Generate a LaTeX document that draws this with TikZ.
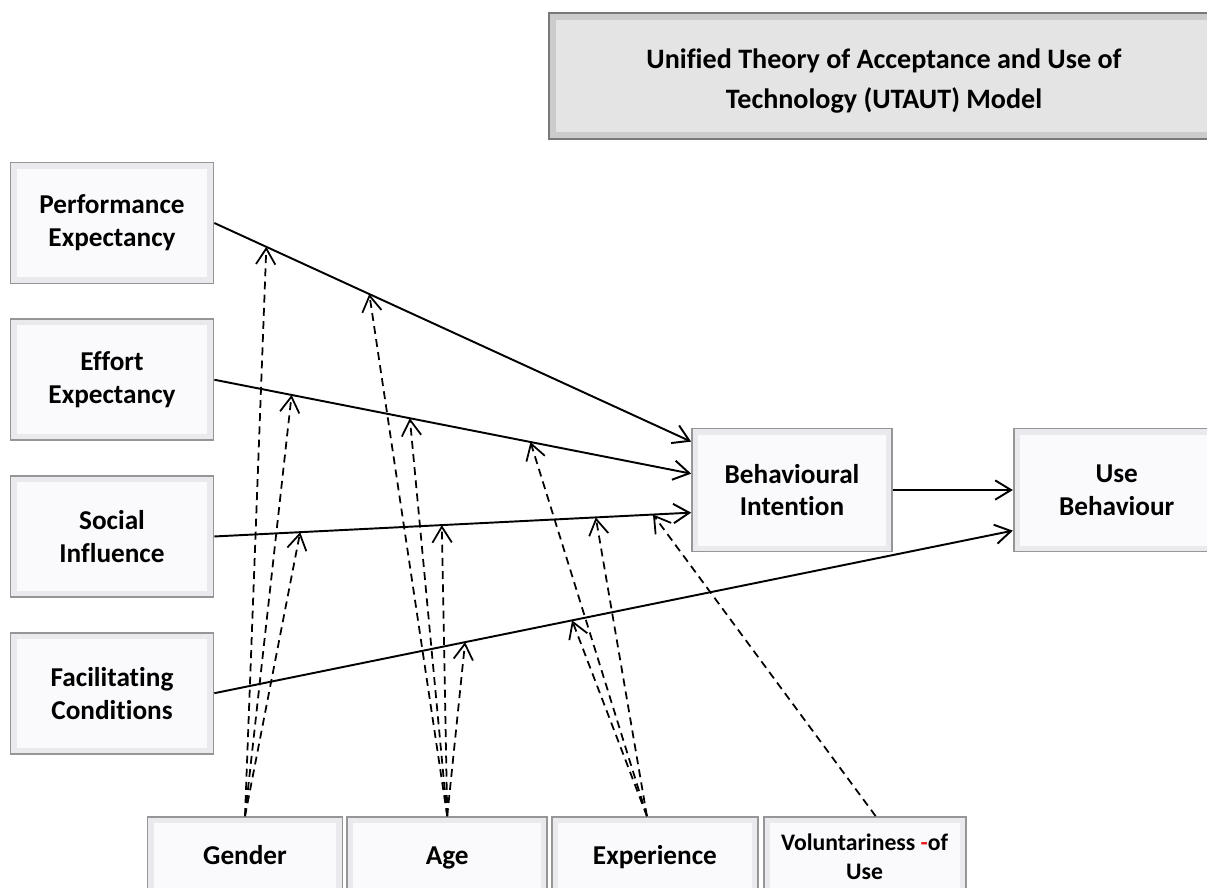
\documentclass[tikz,border=0pt]{standalone}
\usepackage{fontspec}
\setmainfont{Carlito}[Ligatures=NoCommon]
\usetikzlibrary{arrows.meta,positioning,calc}
\definecolor{boxedge}{RGB}{150,150,150}
\definecolor{boxfill}{RGB}{250,250,252}
\definecolor{bevel}{RGB}{234,234,238}
\definecolor{titlefill}{RGB}{228,228,228}
\definecolor{titlebevel}{RGB}{204,204,204}
\definecolor{titleedge}{RGB}{120,120,120}
\definecolor{spellred}{RGB}{230,30,30}

\begin{document}
\begin{tikzpicture}[x=0.02cm, y=-0.02cm,
    factor/.style = {rectangle, draw=boxedge, line width=1pt, fill=bevel,
                     minimum width=4.06cm, minimum height=2.42cm, align=center,
                     font=\fontsize{15.5}{18.7}\selectfont\bfseries,
                     path picture={\fill[boxfill]
                       ($(path picture bounding box.south west)+(6,-6)$) rectangle
                       ($(path picture bounding box.north east)+(-6,6)$);}},
    moder/.style  = {factor, minimum height=1.6cm},
    oneline/.style = {text height=1.08em, text depth=0.22em},
    ttlbox/.style = {rectangle, draw=titleedge, line width=1pt, fill=titlebevel,
                     minimum width=13.4cm, minimum height=2.52cm, align=center,
                     text height=40.5pt, text depth=3.4pt,
                     font=\fontsize{16}{22.8}\selectfont\bfseries,
                     path picture={\fill[titlefill]
                       ($(path picture bounding box.south west)+(7,-7)$) rectangle
                       ($(path picture bounding box.north east)+(-7,7)$);}},
    arr/.style    = {-{Straight Barb[length=9pt,width=11pt]}, line width=1.1pt},
    modarr/.style = {arr, dash pattern=on 4.5pt off 3pt, line width=1pt}
  ]
    \useasboundingbox (0,0) rectangle (1207,887);

    \node[ttlbox] (title) at (884,76) {Unified Theory of Acceptance and Use of\\Technology (UTAUT) Model};

    % determinants
    \node[factor] (pe) at (112,223) {Performance\\Expectancy};
    \node[factor, below=0.68cm of pe] (ee) {Effort\\Expectancy};
    \node[factor, below=0.68cm of ee] (si) {Social\\Influence};
    \node[factor, below=0.68cm of si] (fc) {Facilitating\\Conditions};

    \node[factor, minimum width=4cm, minimum height=2.46cm] (bi) at (792,490) {Behavioural\\Intention};
    \node[factor, minimum width=4.12cm, minimum height=2.46cm, right=2.4cm of bi] (ub) {Use\\Behaviour};

    % moderators
    \node[moder, oneline, minimum width=3.9cm] (gen) at (245,857) {Gender};
    \node[moder, oneline, minimum width=4cm, right=0.06cm of gen] (age) {Age};
    \node[moder, oneline, minimum width=4.12cm, right=0.06cm of age] (exp) {Experience};
    \node[moder, minimum width=4.04cm, right=0.08cm of exp,
          font=\fontsize{13.5}{16.5}\selectfont\bfseries] (vol) {Voluntariness {\color{spellred}-}of\\Use};

    \coordinate (bi-pe) at ($(bi.north west)+(0,14)$);
    \coordinate (bi-ee) at ($(bi.north west)+(0,46)$);
    \coordinate (bi-si) at ($(bi.north west)+(0,85)$);
    \coordinate (ub-fc) at ($(ub.north west)+(0,103)$);
    \coordinate (exp-src) at ($(exp.north)+(-8,0)$);
    \coordinate (vol-src) at ($(vol.north)+(11,0)$);

    \draw[arr] (pe.east) -- (bi-pe) coordinate[pos=0.109] (pe-gen) coordinate[pos=0.325] (pe-age);
    \draw[arr] (ee.east) -- (bi-ee) coordinate[pos=0.162] (ee-gen) coordinate[pos=0.41] (ee-age)
                                    coordinate[pos=0.663] (ee-exp);
    \draw[arr] (si.east) -- (bi-si) coordinate[pos=0.18] (si-gen) coordinate[pos=0.477] (si-age)
                                    coordinate[pos=0.80] (si-exp) coordinate[pos=0.92] (si-vol);
    \draw[arr] (fc.east) -- (ub-fc) coordinate[pos=0.314] (fc-age) coordinate[pos=0.448] (fc-exp);
    \draw[arr] (bi) -- (ub);

    \draw[modarr] (gen.north) -- (pe-gen);
    \draw[modarr] (gen.north) -- (ee-gen);
    \draw[modarr] (gen.north) -- (si-gen);
    \draw[modarr] (age.north) -- (pe-age);
    \draw[modarr] (age.north) -- (ee-age);
    \draw[modarr] (age.north) -- (si-age);
    \draw[modarr] (age.north) -- (fc-age);
    \draw[modarr] (exp-src) -- (ee-exp);
    \draw[modarr] (exp-src) -- (si-exp);
    \draw[modarr] (exp-src) -- (fc-exp);
    \draw[modarr] (vol-src) -- (si-vol);
  \end{tikzpicture}
\end{document}
